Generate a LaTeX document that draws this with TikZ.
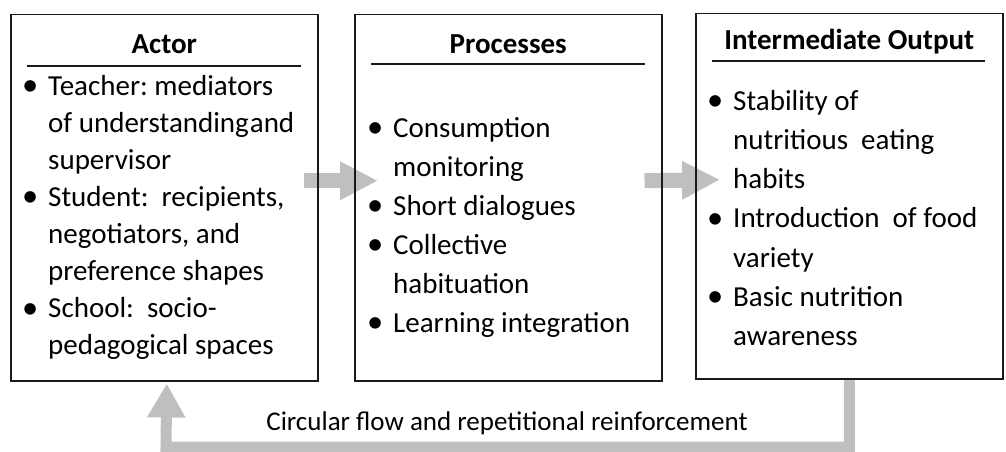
\documentclass[tikz,border=0pt]{standalone}
\usepackage{fontspec}
\setmainfont{Carlito}
\usetikzlibrary{arrows.meta,backgrounds}
\frenchspacing

\tikzset{
  box/.style={draw=black!90, line width=1.5pt, minimum width=307pt,
    minimum height=366pt, anchor=north west, inner sep=0pt},
  title/.style={font=\fontsize{29}{35}\selectfont\bfseries, inner sep=0pt, anchor=base},
  rule/.style={line width=1.5pt, black!90},
  list/.style={anchor=north west, inner sep=0pt},
  flow/.style={draw=black!25, line width=15pt, -{Triangle[length=38pt,width=36pt]}},
  back/.style={draw=black!25, line width=11pt, -{Triangle[length=34pt,width=36pt]}},
}
\newcommand{\bl}{\raisebox{-0.5pt}{\scalebox{1.12}{\textbullet}}}

\begin{document}
\begin{tikzpicture}[x=1pt,y=-1pt]
\useasboundingbox (0,0) rectangle (1006,452);

% the three boxes
\node[box] (actor) at (10,14) {};
\node[box] (proc) at (354,14) {};
\node[box, minimum height=365pt] (output) at (695,13) {};

% titles
\node[title] (actortitle) at ([yshift=-39pt]actor.north) {Actor};
\node[title] (proctitle) at ([yshift=-39pt]proc.north) {Processes};
\node[title] (outtitle) at ([yshift=-37pt]output.north) {Intermediate Output};
\draw[rule] ([xshift=17pt,yshift=-52pt]actor.north west) -- ([xshift=-18pt,yshift=-52pt]actor.north east);
\draw[rule] ([xshift=17pt,yshift=-50pt]proc.north west) -- ([xshift=-18pt,yshift=-50pt]proc.north east);
\draw[rule] ([xshift=17pt,yshift=-48pt]output.north west) -- ([xshift=-19pt,yshift=-48pt]output.north east);

% lists
\node[list, font=\fontsize{29}{37.1}\selectfont] (actorlist) at ([xshift=12pt,yshift=-55pt]actor.north west) {%
  \begin{tabular}{@{}p{26pt}@{}l@{}}
  \bl & Teacher: mediators\\
      & of understanding\hspace{1pt}and\\
      & supervisor\\
  \bl & Student:\ \ recipients,\\
      & negotiators, and\\
      & preference shapes\\
  \bl & School:\ \ socio-\\
      & pedagogical spaces
  \end{tabular}};
\node[list, font=\fontsize{29}{39}\selectfont] (proclist) at ([xshift=13pt,yshift=-95.7pt]proc.north west) {%
  \begin{tabular}{@{}p{26pt}@{}l@{}}
  \bl & Consumption\\
      & monitoring\\
  \bl & Short dialogues\\
  \bl & Collective\\
      & habituation\\
  \bl & Learning integration
  \end{tabular}};
\node[list, font=\fontsize{29}{39.2}\selectfont] (outlist) at ([xshift=12pt,yshift=-69.7pt]output.north west) {%
  \begin{tabular}{@{}p{26pt}@{}l@{}}
  \bl & Stability of\\
      & nutritious\ \ eating\\
      & habits\\
  \bl & Introduction\ \ of food\\
      & variety\\
  \bl & Basic nutrition\\
      & awareness
  \end{tabular}};

% feedback label
\node[font=\fontsize{27}{33}\selectfont, inner sep=0pt, anchor=base] (looptext) at (507,430)
  {Circular flow and repetitional reinforcement};
\coordinate (bend) at (166,447);

% gray arrows behind the boxes
\begin{scope}[on background layer]
\draw[flow] ([xshift=-15pt,yshift=17pt]actor.east) -- ([xshift=24pt,yshift=17pt]proc.west);
\draw[flow] ([xshift=-18pt,yshift=17pt]proc.east) -- ([xshift=25pt,yshift=16.5pt]output.west);
\draw[back] (output.south) |- (bend) -- ([xshift=2.5pt,yshift=-2pt]actor.south);
\end{scope}
\end{tikzpicture}
\end{document}
